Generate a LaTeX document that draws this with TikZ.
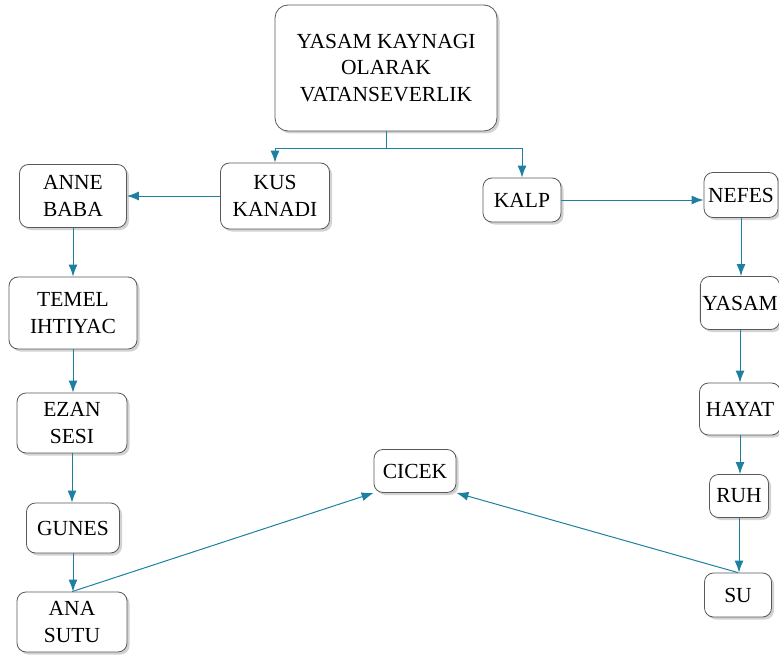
\documentclass[tikz,border=0pt]{standalone}
\usepackage{fontspec}
\setmainfont{Liberation Serif}
\usetikzlibrary{shadows,arrows.meta}
\definecolor{linkblue}{RGB}{30,128,160}
\tikzset{
  box/.style={draw=black!65, line width=0.8pt, fill=white, rounded corners=9pt, align=center,
    inner sep=2pt, font=\fontsize{21.5}{26.5}\selectfont, text=black,
    drop shadow={shadow xshift=2.5pt, shadow yshift=-2.5pt, fill=black!35}},
  link/.style={draw=linkblue, line width=1pt, -{Latex[length=12pt,width=9pt]}},
  plain/.style={draw=linkblue, line width=1pt}
}
\begin{document}
\begin{tikzpicture}[x=1pt, y=-1pt]
\useasboundingbox (0,0) rectangle (779,658);
\node[box, minimum width=222pt, minimum height=126pt, rounded corners=13pt] (source) at (386,68) {YASAM KAYNAGI\\OLARAK\\VATANSEVERLIK};
\node[box, minimum width=109pt, minimum height=66pt] (kus) at (275,196) {KUS\\KANADI};
\node[box, minimum width=78pt, minimum height=44pt] (kalp) at (522,200) {KALP};
\node[box, minimum width=107pt, minimum height=63pt] (anne) at (73,196) {ANNE\\BABA};
\node[box, minimum width=128pt, minimum height=72pt] (temel) at (73,313) {TEMEL\\IHTIYAC};
\node[box, minimum width=110pt, minimum height=60pt] (ezan) at (72,423) {EZAN\\SESI};
\node[box, minimum width=93pt, minimum height=50pt] (gunes) at (73,528) {GUNES};
\node[box, minimum width=110pt, minimum height=60pt] (ana) at (72,622) {ANA\\SUTU};
\node[box, minimum width=82pt, minimum height=43pt] (cicek) at (415,471) {CICEK};
\node[box, minimum width=74pt, minimum height=45pt] (nefes) at (741,195) {NEFES};
\node[box, minimum width=79pt, minimum height=53pt] (yasam) at (740,303) {YASAM};
\node[box, minimum width=81pt, minimum height=52pt] (hayat) at (740,409) {HAYAT};
\node[box, minimum width=59pt, minimum height=43pt] (ruh) at (739,496) {RUH};
\node[box, minimum width=67pt, minimum height=44pt] (su) at (738,595) {SU};

\draw[plain] (source.south) -- ++(0,17) coordinate (split);
\draw[link] (split) -| (kus.north);
\draw[link] (split) -| (kalp.north);
\draw[link] (kus) -- (anne);
\draw[link] (kalp.east) -- (kalp.east -| nefes.west);
\foreach \a/\b in {anne/temel,temel/ezan,ezan/gunes,gunes/ana}
  \draw[link] (\a.south) -- (\a.south |- \b.north);
\foreach \a/\b in {nefes/yasam,yasam/hayat,hayat/ruh,ruh/su}
  \draw[link] (\a.south) -- (\a.south |- \b.north);
\draw[link] (ana.north) -- (cicek.south west);
\draw[link] (su.north) -- (cicek.south east);
\end{tikzpicture}
\end{document}
